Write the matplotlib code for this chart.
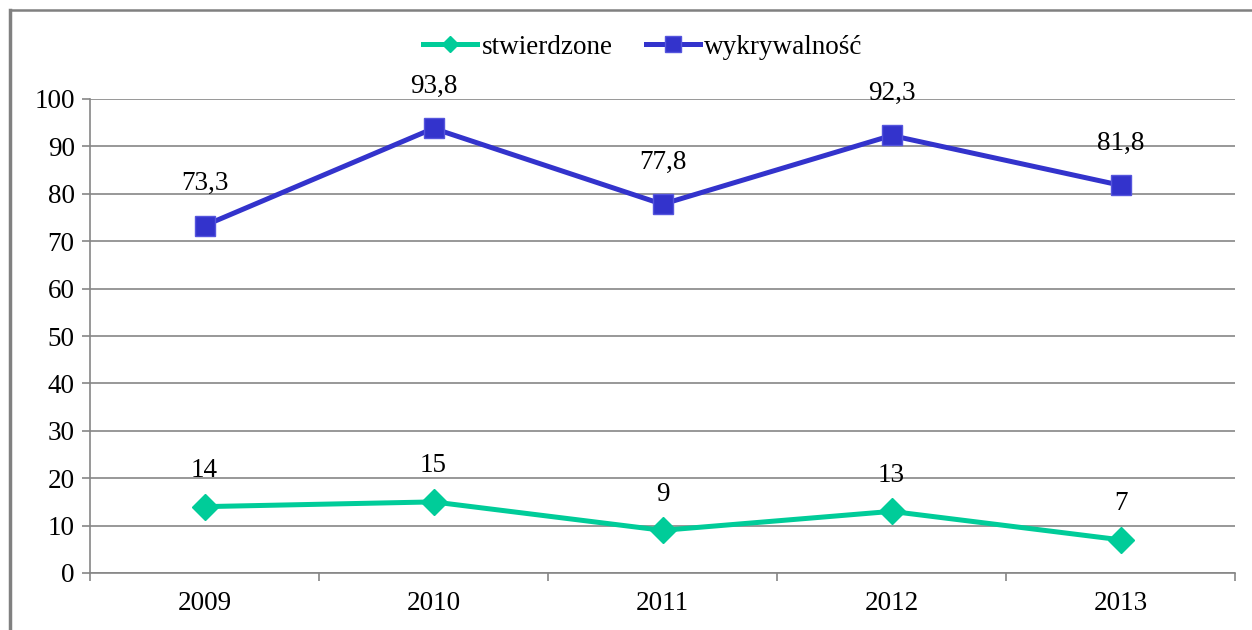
import matplotlib
matplotlib.use("Agg")
import matplotlib.pyplot as plt
from matplotlib.lines import Line2D
from matplotlib.ticker import FixedLocator, NullFormatter

plt.rcParams['font.family'] = ['Liberation Serif', 'DejaVu Serif']

years = ['2009', '2010', '2011', '2012', '2013']
stwierdzone = [14, 15, 9, 13, 7]
wykrywalnosc = [73.3, 93.8, 77.8, 92.3, 81.8]
labels_stw = ['14', '15', '9', '13', '7']
labels_wyk = ['73,3', '93,8', '77,8', '92,3', '81,8']
yticks = [0, 10, 20, 30, 40, 50, 60, 70, 80, 90, 100]

green = '#00CC99'
blue = '#3333CC'
grid_gray = '#868686'
fs = 19.5

fig = plt.figure(figsize=(12.52, 6.30), dpi=100)
ax = fig.add_axes([90/1252, 1-573/630, (1235-90)/1252, (573-99)/630])

x = list(range(len(years)))
ax.plot(x, stwierdzone, color=green, lw=3.6, marker='D', markersize=13,
        markeredgecolor=green, label='stwierdzone', zorder=3)
ax.plot(x, wykrywalnosc, color=blue, lw=3.6, marker='s', markersize=15,
        markeredgecolor='#5555DD', markeredgewidth=1, label='wykrywalność', zorder=3)

for xi, v, t in zip(x, stwierdzone, labels_stw):
    ax.annotate(t, (xi, v), xytext=(0, 26), textcoords='offset points',
                ha='center', va='center', fontsize=fs)
for xi, v, t in zip(x, wykrywalnosc, labels_wyk):
    ax.annotate(t, (xi, v), xytext=(0, 30), textcoords='offset points',
                ha='center', va='center', fontsize=fs)

ax.set_xlim(-0.5, len(years) - 0.5)
ax.set_ylim(0, 100)
ax.set_yticks(yticks)
ax.set_yticklabels([str(v) for v in yticks], fontsize=fs)
ax.yaxis.grid(True, color=grid_gray, lw=1.2)
ax.set_axisbelow(True)

ax.xaxis.set_major_locator(FixedLocator([i - 0.5 for i in range(len(years) + 1)]))
ax.xaxis.set_major_formatter(NullFormatter())
ax.xaxis.set_minor_locator(FixedLocator(x))
ax.set_xticklabels(years, minor=True, fontsize=fs)
ax.tick_params(axis='x', which='major', length=6, color=grid_gray, width=1.2)
ax.tick_params(axis='x', which='minor', length=0, pad=13)
ax.tick_params(axis='y', length=6, color=grid_gray, width=1.2, pad=5)

for s in ['top', 'right']:
    ax.spines[s].set_visible(False)
for s in ['left', 'bottom']:
    ax.spines[s].set_color(grid_gray)
    ax.spines[s].set_linewidth(1.2)

leg = fig.legend(loc='center', bbox_to_anchor=(643/1252, 1-47/630), ncol=2,
                 frameon=False, fontsize=fs, handlelength=2.0, handletextpad=0.15,
                 columnspacing=1.25)
hs = leg.legend_handles
hs[0].set_markersize(8)
hs[1].set_markersize(12)

fig.add_artist(Line2D([10/1252, 10/1252], [0, 1-10/630], color='#808080', lw=2.5,
                      transform=fig.transFigure))
fig.add_artist(Line2D([10/1252, 1], [1-10/630, 1-10/630], color='#808080', lw=1.8,
                      transform=fig.transFigure))

fig.savefig('out.png', dpi=100)
